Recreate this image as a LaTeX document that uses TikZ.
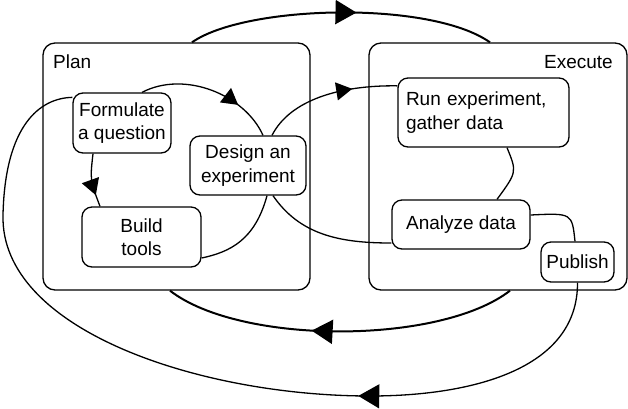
\documentclass[tikz,border=0pt]{standalone}
\usepackage{fontspec}
\setmainfont{Liberation Sans}
\usetikzlibrary{arrows.meta,decorations.markings}

\begin{document}
\begin{tikzpicture}[
  x=1pt, y=-1pt,
  font=\fontsize{19}{23.5}\selectfont,
  stage/.style={draw, line width=1.3pt, rounded corners=12pt, inner sep=0pt},
  box/.style={draw, line width=1.3pt, rounded corners=10pt, align=center, inner sep=0pt},
  link/.style={line width=1.3pt},
  loop/.style={line width=2pt},
  tipat/.style={postaction={decorate}, decoration={markings,
    mark=at position #1 with {\arrow{Triangle[width=18pt,length=16pt]}}}},
  bigtipat/.style={postaction={decorate}, decoration={markings,
    mark=at position #1 with {\arrow{Triangle[width=24pt,length=21pt]}}}}
]
\useasboundingbox (0,0) rectangle (628,408);

% the two stages
\node[stage, minimum width=267pt, minimum height=247pt] (plan) at (176.5,166.5) {};
\node[stage, minimum width=258pt, minimum height=247pt] (exec) at (498,166.5) {};
\node[anchor=base west, inner sep=0pt] (plantitle) at (53,68) {Plan};
\node[anchor=base east, inner sep=0pt] (exectitle) at (613,68) {Execute};

% steps
\node[box, minimum width=98pt, minimum height=60pt] (q) at (122,123) {Formulate\\a question};
\node[box, minimum width=116pt, minimum height=59pt] (des) at (248,165.5) {Design an\\experiment};
\node[box, minimum width=119pt, minimum height=60pt] (tools) at (141.5,237) {Build\\tools};
\node[box, align=left, text width=155pt, inner xsep=8pt, minimum height=69pt] (run) at (483.5,112.5) {Run experiment,\\gather data};
\node[box, minimum width=138pt, minimum height=49pt] (ana) at (461,224.5) {Analyze data};
\node[box, minimum width=73pt, minimum height=40pt] (pub) at (577.5,262) {Publish};

% big cycle between stages
\draw[loop, bigtipat=0.55] ([xshift=15.5pt]plan.north) .. controls (245,5) and (430,0) .. ([xshift=-8pt]exec.north);
\draw[loop, bigtipat=0.58] ([xshift=12pt]exec.south) .. controls (440,345) and (240,345) .. ([xshift=-6.5pt]plan.south);

% outer loop
\draw[link, bigtipat=0.32] (pub.south) .. controls (578,370) and (470,396) .. (370,396)
  .. controls (200,396) and (0,330) .. (3,215)
  .. controls (5,125) and (40,98) .. ([yshift=-5pt]q.north west);

% plan cycle
\draw[link, tipat=0.72] ([xshift=20pt]q.north) .. controls (185,70) and (245,95) .. ([xshift=15pt]des.north);
\draw[link, tipat=0.78] ([xshift=-29pt]q.south) .. controls (90,180) .. ([xshift=-41.5pt]tools.north);
\draw[link] ([xshift=19pt]des.south) .. controls (255,240) and (230,252) .. ([yshift=-21pt]tools.east);

% design to execute
\draw[link, tipat=0.68] ([xshift=24pt]des.north) .. controls (290,100) and (340,85) .. ([yshift=-8.5pt]run.north west);
\draw[link] ([xshift=25pt]des.south) .. controls (300,235) and (340,243) .. ([yshift=-18.5pt]ana.west);
\draw[link] ([xshift=23.5pt]run.south) .. controls (517,172) .. ([xshift=36pt]ana.north);
\draw[link] ([yshift=9.5pt]ana.east) .. controls (572,213) .. ([xshift=-2.5pt]pub.north);
\end{tikzpicture}
\end{document}
